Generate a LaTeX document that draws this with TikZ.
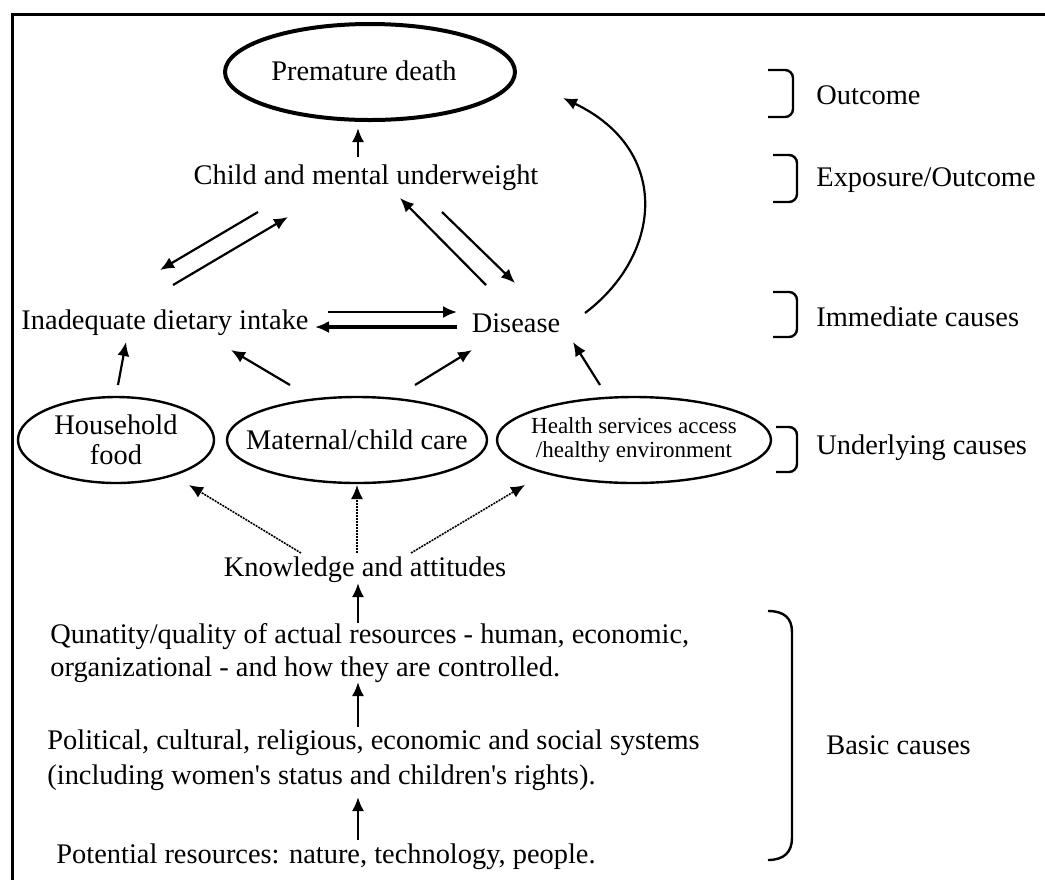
\documentclass[tikz,border=0pt]{standalone}
\usepackage{fontspec}
\setmainfont{Liberation Serif}
\usetikzlibrary{arrows.meta,calc,shapes.geometric}
\begin{document}
\begin{tikzpicture}[x=0.5pt,y=-0.5pt,
  lbl/.style={inner sep=0pt,font=\fontsize{14.2}{16.5}\selectfont},
  oval/.style={ellipse,draw,line width=1.2pt,inner sep=0pt},
  ovaltext/.style={inner sep=0pt,align=center,font=\fontsize{14.2}{15}\selectfont},
  arr/.style={line width=1.1pt,-{Latex[length=7pt,width=6pt]}},
  dotarr/.style={line width=0.8pt,dash pattern=on 1pt off 0.5pt,-{Latex[length=7pt,width=6pt]}},
  brk/.style={line width=1.2pt,rounded corners=4pt},
  side/.style={inner sep=0pt,anchor=west,font=\fontsize{14.2}{16.5}\selectfont}]
\useasboundingbox (0,0) rectangle (1045,880);
% frame
\draw[line width=1.5pt] (1045,14) -- (12,14) -- (12,880);

% outcome and immediate causes
\node[ellipse,draw,line width=2pt,inner sep=0pt,minimum width=145pt,minimum height=48pt] (death) at (370,72) {};
\node[lbl] (deathtext) at (364,71) {Premature death};
\node[lbl] (child) at (366,178) {Child and mental underweight};
\node[lbl] (inad) at (165,323) {Inadequate dietary intake};
\node[lbl] (dis) at (516,323) {Disease};

% underlying causes: fixed-size ovals with their labels on top
\node[oval,minimum width=98pt,minimum height=43pt] (house) at (116,440) {};
\node[ovaltext] (housetext) at (house) {Household\\food};
\node[oval,minimum width=130pt,minimum height=43pt] (mat) at (357,440) {};
\node[ovaltext] (mattext) at (mat) {Maternal/child care};
\node[oval,minimum width=137pt,minimum height=43pt] (health) at (634,440) {};
\node[ovaltext,font=\fontsize{11.5}{12}\selectfont] (healthtext) at (634,440)
  {Health services access\\/healthy environment};

% basic causes
\node[lbl] (know) at (365,570) {Knowledge and attitudes};
\node[lbl,anchor=west,align=left] (qty) at (50,653)
  {Qunatity/quality of actual resources - human, economic,\\organizational - and how they are controlled.};
\node[lbl,anchor=west,align=left,font=\fontsize{14.2}{17.5}\selectfont] (pol) at (47,760)
  {Political, cultural, religious, economic and social systems\\(including women\textquotesingle s status and children\textquotesingle s rights).};
\node[lbl] (pot) at (326,857) {Potential resources: nature, technology, people.};

% level labels
\node[side] (l1) at (816,95) {Outcome};
\node[side] (l2) at (816,180) {Exposure/Outcome};
\node[side] (l3) at (816,317) {Immediate causes};
\node[side] (l4) at (816,448) {Underlying causes};
\node[side] (l5) at (826,745) {Basic causes};

% brackets
\draw[brk] (768,70) -| (793,117) -- (768,117);
\draw[brk] (773,155) -| (797,202) -- (773,202);
\draw[brk] (773,292) -| (797,337) -- (773,337);
\draw[brk] (776,427) -| (797,472) -- (776,472);
\draw[line width=1.2pt] (768,611) .. controls (784,611) and (792,618) .. (792,632)
  -- (792,838) .. controls (792,852) and (784,860) .. (768,860);

% arrows between outcome and immediate causes
\draw[arr] ($(child)+(-8,-21)$) -- ($(death)+(-12,56)$);
\draw[arr] ($(child)+(-108,34)$) -- ($(inad)+(-5,-53)$);
\draw[arr] ($(inad)+(8,-38)$) -- ($(child)+(-78,39)$);
\draw[arr] ($(dis)+(-30,-38)$) -- ($(child)+(34,20)$);
\draw[arr] ($(child)+(76,34)$) -- ($(dis)+(-1,-40)$);
\draw[arr] ($(inad)+(163,-11)$) -- ($(dis)+(-59,-11)$);
\draw[arr,line width=1.6pt] ($(dis)+(-59,4)$) -- ($(inad)+(150,4)$);
\draw[arr] ($(dis)+(69,-10)$) .. controls (662,255) and (672,150) .. ($(death)+(193,26)$);

% underlying to immediate
\draw[arr] ($(house)+(2,-55)$) -- ($(inad)+(-39,19)$);
\draw[arr] ($(mat)+(-67,-55)$) -- ($(inad)+(66,27)$);
\draw[arr] ($(mat)+(58,-55)$) -- ($(dis)+(-44,27)$);
\draw[arr] ($(health)+(-34,-55)$) -- ($(dis)+(57,19)$);

% knowledge to underlying
\draw[dotarr] ($(know)+(-64,-17)$) -- ($(house)+(73,45)$);
\draw[dotarr] ($(know)+(-8,-17)$) -- ($(mat)+(0,45)$);
\draw[dotarr] ($(know)+(46,-17)$) -- ($(health)+(-109,45)$);

% basic causes chain
\draw[arr] ($(qty.west)+(308,-30)$) -- ($(know)+(-7,13)$);
\draw[arr] ($(pol.west)+(311,-33)$) -- ($(qty.west)+(308,29)$);
\draw[arr] ($(pot)+(32,-17)$) -- ($(pol.west)+(311,37)$);
\end{tikzpicture}
\end{document}
